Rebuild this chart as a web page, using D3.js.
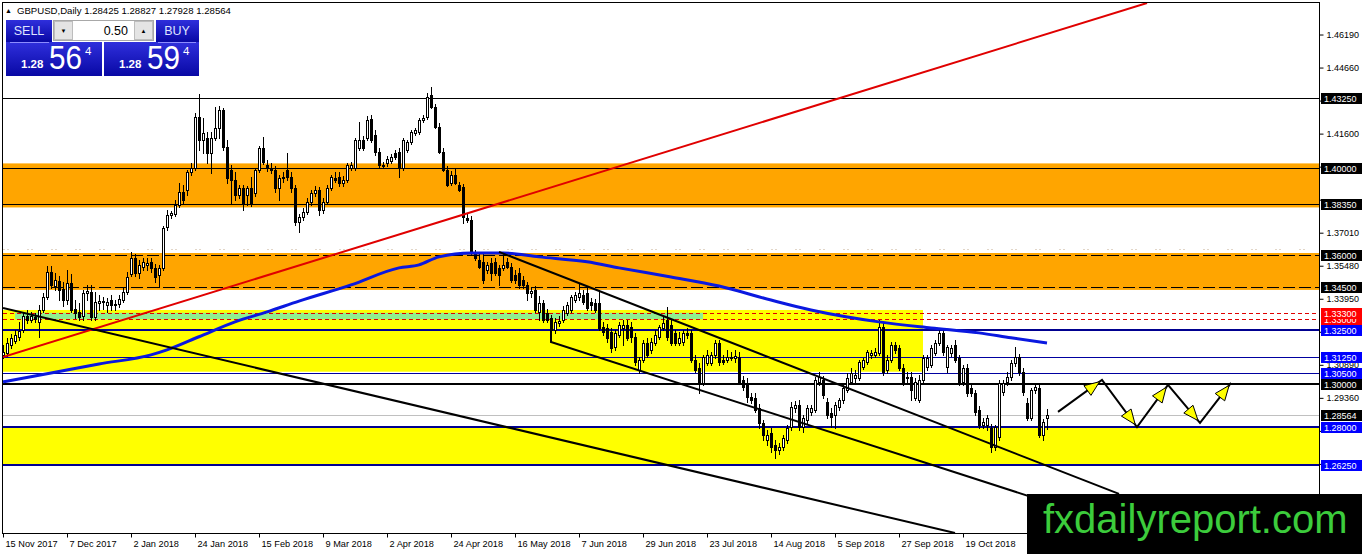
<!DOCTYPE html>
<html>
<head>
<meta charset="utf-8">
<script src="https://cdn.jsdelivr.net/npm/d3@7"></script>
<style>
  html, body { margin: 0; padding: 0; background: #fff; }
  svg { display: block; font-family: "Liberation Sans", Arial, sans-serif; }
</style>
</head>
<body>
<svg id="chart" width="1362" height="554"></svg>
<script>
// ---- data ----
const symbol = 'GBPUSD,Daily'
const lastQuote = [1.28425, 1.28827, 1.27928, 1.28564]
const bid = 1.28564
const ask = 1.28594
const lotSize = '0.50'

const dateLabels = ['15 Nov 2017', '7 Dec 2017', '2 Jan 2018', '24 Jan 2018', '15 Feb 2018', '9 Mar 2018',
  '2 Apr 2018', '24 Apr 2018', '16 May 2018', '7 Jun 2018', '29 Jun 2018', '23 Jul 2018',
  '14 Aug 2018', '5 Sep 2018', '27 Sep 2018', '19 Oct 2018']
const dateBars = [0, 16, 32, 48, 64, 80, 96, 112, 128, 144, 160, 176, 192, 208, 224, 240]

const priceTicks = [1.46190, 1.44660, 1.43130, 1.41600, 1.40070, 1.38540, 1.37010, 1.35480,
  1.33950, 1.32420, 1.30890, 1.29360, 1.27830, 1.26300, 1.24770, 1.23240]

// one row per daily bar: open, high, low, close
const candles = [
  [1.3135,1.3181,1.3121,1.3149],[1.3144,1.3214,1.3130,1.3190],[1.3181,1.3232,1.3167,1.3214],[1.3199,1.3251,1.3190,1.3228],
  [1.3219,1.3288,1.3204,1.3246],[1.3251,1.3334,1.3242,1.3315],[1.3315,1.3343,1.3283,1.3297],[1.3297,1.3334,1.3288,1.3315],
  [1.3311,1.3329,1.3288,1.3301],[1.3288,1.3366,1.3219,1.3343],[1.3343,1.3422,1.3334,1.3404],[1.3404,1.3547,1.3394,1.3519],
  [1.3519,1.3547,1.3445,1.3459],[1.3454,1.3514,1.3436,1.3482],[1.3477,1.3500,1.3389,1.3436],[1.3440,1.3473,1.3361,1.3389],
  [1.3389,1.3528,1.3370,1.3468],[1.3468,1.3510,1.3334,1.3343],[1.3347,1.3389,1.3306,1.3329],[1.3334,1.3375,1.3297,1.3311],
  [1.3315,1.3436,1.3297,1.3422],[1.3422,1.3459,1.3389,1.3431],[1.3427,1.3459,1.3297,1.3311],[1.3311,1.3427,1.3297,1.3380],
  [1.3375,1.3413,1.3343,1.3384],[1.3384,1.3404,1.3347,1.3380],[1.3366,1.3399,1.3334,1.3380],[1.3389,1.3413,1.3343,1.3366],
  [1.3366,1.3389,1.3343,1.3370],[1.3370,1.3413,1.3357,1.3394],[1.3389,1.3445,1.3380,1.3427],[1.3427,1.3519,1.3417,1.3496],
  [1.3510,1.3612,1.3500,1.3584],[1.3584,1.3603,1.3500,1.3514],[1.3514,1.3575,1.3491,1.3552],[1.3542,1.3584,1.3528,1.3566],
  [1.3552,1.3584,1.3528,1.3561],[1.3566,1.3584,1.3519,1.3538],[1.3538,1.3556,1.3473,1.3496],[1.3505,1.3552,1.3450,1.3538],
  [1.3538,1.3732,1.3528,1.3723],[1.3728,1.3806,1.3714,1.3783],[1.3783,1.3801,1.3769,1.3792],[1.3787,1.3853,1.3778,1.3830],
  [1.3830,1.3931,1.3821,1.3890],[1.3890,1.3922,1.3839,1.3853],[1.3899,1.3992,1.3876,1.3983],[1.3983,1.4024,1.3969,1.4001],
  [1.4001,1.4255,1.3992,1.4237],[1.4237,1.4343,1.4084,1.4131],[1.4131,1.4232,1.4070,1.4163],[1.4140,1.4168,1.4024,1.4070],
  [1.4070,1.4168,1.3978,1.4140],[1.4140,1.4284,1.4131,1.4186],[1.4186,1.4288,1.4140,1.4269],[1.4269,1.4279,1.4084,1.4099],
  [1.4099,1.4131,1.3931,1.3955],[1.3992,1.4015,1.3839,1.3945],[1.3945,1.3983,1.3853,1.3876],[1.3876,1.3922,1.3862,1.3908],
  [1.3908,1.3922,1.3806,1.3839],[1.3876,1.3917,1.3830,1.3908],[1.3908,1.3960,1.3825,1.3839],[1.3885,1.4001,1.3871,1.3992],
  [1.3992,1.4103,1.3983,1.4094],[1.4094,1.4145,1.4019,1.4029],[1.4015,1.4038,1.3987,1.4001],[1.4001,1.4024,1.3978,1.3992],
  [1.3992,1.4010,1.3890,1.3908],[1.3908,1.3969,1.3853,1.3955],[1.3955,1.3983,1.3936,1.3960],[1.3992,1.4070,1.3945,1.3960],
  [1.3960,1.3983,1.3890,1.3908],[1.3908,1.3922,1.3737,1.3751],[1.3751,1.3787,1.3705,1.3774],[1.3774,1.3816,1.3760,1.3797],
  [1.3797,1.3862,1.3787,1.3844],[1.3844,1.3899,1.3830,1.3885],[1.3885,1.3917,1.3871,1.3899],[1.3899,1.3913,1.3783,1.3806],
  [1.3806,1.3862,1.3792,1.3844],[1.3844,1.3922,1.3834,1.3908],[1.3908,1.3969,1.3899,1.3960],[1.3955,1.3983,1.3936,1.3945],
  [1.3960,1.3983,1.3917,1.3931],[1.3931,1.3964,1.3917,1.3945],[1.3945,1.4024,1.3936,1.4015],[1.4001,1.4029,1.3992,1.4015],
  [1.4001,1.4140,1.3992,1.4131],[1.4094,1.4214,1.4084,1.4131],[1.4131,1.4149,1.4084,1.4094],[1.4140,1.4241,1.4131,1.4223],
  [1.4227,1.4246,1.4122,1.4131],[1.4154,1.4177,1.4061,1.4075],[1.4075,1.4094,1.4001,1.4015],[1.4015,1.4029,1.4001,1.4010],
  [1.4024,1.4056,1.4010,1.4042],[1.4033,1.4065,1.4024,1.4052],[1.4070,1.4084,1.4042,1.4052],[1.4075,1.4094,1.3960,1.4006],
  [1.4001,1.4140,1.3992,1.4131],[1.4084,1.4131,1.4075,1.4122],[1.4122,1.4177,1.4112,1.4168],[1.4163,1.4186,1.4154,1.4177],
  [1.4168,1.4232,1.4158,1.4223],[1.4223,1.4246,1.4214,1.4232],[1.4237,1.4348,1.4227,1.4330],[1.4339,1.4376,1.4279,1.4284],
  [1.4284,1.4297,1.4186,1.4191],[1.4191,1.4209,1.4070,1.4075],[1.4075,1.4094,1.3987,1.3992],[1.3992,1.4010,1.3917,1.3922],
  [1.3931,1.3987,1.3922,1.3969],[1.3969,1.4001,1.3926,1.3931],[1.3922,1.3936,1.3894,1.3899],[1.3913,1.3926,1.3746,1.3774],
  [1.3769,1.3787,1.3751,1.3760],[1.3760,1.3778,1.3598,1.3607],[1.3607,1.3621,1.3575,1.3584],[1.3575,1.3607,1.3538,1.3543],
  [1.3566,1.3612,1.3468,1.3482],[1.3528,1.3566,1.3514,1.3552],[1.3561,1.3584,1.3482,1.3514],[1.3566,1.3584,1.3505,1.3514],
  [1.3538,1.3552,1.3459,1.3505],[1.3538,1.3607,1.3528,1.3552],[1.3566,1.3584,1.3538,1.3543],[1.3543,1.3561,1.3473,1.3482],
  [1.3505,1.3528,1.3468,1.3482],[1.3514,1.3538,1.3445,1.3459],[1.3482,1.3500,1.3445,1.3459],[1.3459,1.3473,1.3389,1.3422],
  [1.3422,1.3445,1.3404,1.3431],[1.3436,1.3454,1.3334,1.3343],[1.3334,1.3408,1.3297,1.3375],[1.3375,1.3389,1.3288,1.3297],
  [1.3329,1.3347,1.3288,1.3297],[1.3306,1.3320,1.3242,1.3251],[1.3251,1.3306,1.3237,1.3288],[1.3283,1.3315,1.3269,1.3292],
  [1.3297,1.3361,1.3288,1.3343],[1.3329,1.3380,1.3320,1.3366],[1.3343,1.3413,1.3334,1.3404],[1.3389,1.3427,1.3380,1.3413],
  [1.3404,1.3468,1.3389,1.3422],[1.3413,1.3436,1.3370,1.3380],[1.3422,1.3445,1.3343,1.3352],[1.3380,1.3399,1.3343,1.3366],
  [1.3375,1.3394,1.3334,1.3343],[1.3375,1.3436,1.3251,1.3260],[1.3265,1.3288,1.3228,1.3242],[1.3260,1.3278,1.3195,1.3214],
  [1.3242,1.3260,1.3149,1.3167],[1.3172,1.3251,1.3158,1.3237],[1.3228,1.3288,1.3219,1.3274],[1.3260,1.3297,1.3181,1.3274],
  [1.3274,1.3297,1.3204,1.3214],[1.3265,1.3288,1.3195,1.3219],[1.3219,1.3237,1.3089,1.3103],[1.3065,1.3126,1.3051,1.3112],
  [1.3112,1.3204,1.3103,1.3190],[1.3190,1.3214,1.3126,1.3135],[1.3158,1.3214,1.3144,1.3195],[1.3190,1.3251,1.3181,1.3228],
  [1.3219,1.3274,1.3209,1.3265],[1.3260,1.3311,1.3251,1.3283],[1.3297,1.3357,1.3204,1.3219],[1.3274,1.3297,1.3181,1.3190],
  [1.3237,1.3251,1.3181,1.3190],[1.3190,1.3242,1.3181,1.3214],[1.3195,1.3251,1.3181,1.3237],[1.3237,1.3260,1.3214,1.3228],
  [1.3237,1.3251,1.3103,1.3112],[1.3112,1.3135,1.3056,1.3065],[1.3075,1.3098,1.2959,1.3005],[1.3005,1.3135,1.2996,1.3126],
  [1.3098,1.3158,1.3089,1.3135],[1.3098,1.3149,1.3089,1.3135],[1.3135,1.3204,1.3121,1.3190],[1.3190,1.3204,1.3089,1.3103],
  [1.3112,1.3135,1.3093,1.3103],[1.3112,1.3158,1.3103,1.3126],[1.3121,1.3149,1.3112,1.3126],[1.3121,1.3158,1.3103,1.3130],
  [1.3126,1.3149,1.3000,1.3010],[1.3019,1.3037,1.2973,1.2987],[1.3005,1.3028,1.2917,1.2941],[1.2941,1.2959,1.2912,1.2926],
  [1.2936,1.2959,1.2871,1.2880],[1.2889,1.2907,1.2797,1.2820],[1.2820,1.2834,1.2741,1.2764],[1.2741,1.2787,1.2718,1.2764],
  [1.2773,1.2797,1.2686,1.2709],[1.2718,1.2741,1.2658,1.2695],[1.2695,1.2727,1.2676,1.2709],[1.2709,1.2764,1.2695,1.2750],
  [1.2741,1.2811,1.2727,1.2797],[1.2801,1.2917,1.2787,1.2894],[1.2889,1.2921,1.2871,1.2903],[1.2903,1.2926,1.2787,1.2801],
  [1.2801,1.2857,1.2778,1.2843],[1.2834,1.2903,1.2815,1.2889],[1.2871,1.2903,1.2857,1.2889],[1.2880,1.3033,1.2871,1.3019],
  [1.3010,1.3056,1.2996,1.3033],[1.3019,1.3037,1.2936,1.2950],[1.2917,1.2936,1.2843,1.2857],[1.2866,1.2889,1.2801,1.2848],
  [1.2857,1.2917,1.2797,1.2903],[1.2894,1.2936,1.2880,1.2926],[1.2926,1.2996,1.2912,1.2982],[1.2973,1.3051,1.2964,1.3028],
  [1.3010,1.3075,1.3000,1.3051],[1.3028,1.3065,1.3010,1.3042],[1.3028,1.3112,1.3019,1.3103],[1.3080,1.3121,1.3070,1.3112],
  [1.3103,1.3158,1.3093,1.3149],[1.3135,1.3158,1.3121,1.3144],[1.3135,1.3167,1.3126,1.3149],[1.3144,1.3297,1.3135,1.3265],
  [1.3265,1.3288,1.3042,1.3056],[1.3065,1.3135,1.3051,1.3112],[1.3112,1.3195,1.3103,1.3181],[1.3181,1.3195,1.3144,1.3158],
  [1.3167,1.3181,1.3065,1.3075],[1.3075,1.3093,1.2996,1.3010],[1.3033,1.3056,1.3010,1.3028],[1.3033,1.3056,1.2926,1.2973],
  [1.2936,1.3028,1.2926,1.3010],[1.2926,1.3042,1.2917,1.3019],[1.3019,1.3135,1.3010,1.3121],[1.3080,1.3135,1.3065,1.3121],
  [1.3089,1.3181,1.3080,1.3167],[1.3144,1.3204,1.3135,1.3190],[1.3190,1.3260,1.3181,1.3237],[1.3237,1.3251,1.3135,1.3149],
  [1.3080,1.3181,1.3056,1.3172],[1.3144,1.3181,1.3130,1.3167],[1.3181,1.3204,1.3103,1.3112],[1.3121,1.3135,1.2996,1.3010],
  [1.3010,1.3089,1.2996,1.3075],[1.3075,1.3093,1.2945,1.2959],[1.2982,1.2996,1.2945,1.2959],[1.2959,1.2973,1.2857,1.2871],
  [1.2880,1.2898,1.2797,1.2811],[1.2811,1.2843,1.2797,1.2825],[1.2811,1.2857,1.2787,1.2843],[1.2797,1.2815,1.2686,1.2709],
  [1.2709,1.2811,1.2695,1.2801],[1.2755,1.3019,1.2741,1.3005],[1.2964,1.3019,1.2950,1.3005],[1.3010,1.3056,1.2996,1.3033],
  [1.3033,1.3112,1.3019,1.3098],[1.3098,1.3172,1.3084,1.3126],[1.3126,1.3140,1.3042,1.3056],[1.3056,1.3075,1.2950,1.2964],
  [1.2912,1.2936,1.2834,1.2843],[1.2843,1.2982,1.2834,1.2973],[1.2973,1.2996,1.2959,1.2987],[1.2982,1.3000,1.2755,1.2764],
  [1.2764,1.2838,1.2741,1.2825],[1.28425,1.28827,1.27928,1.28564]
]

// moving average, read at these bars
const maBars = [0, 12, 24, 37, 41, 49, 58, 66, 74, 87, 99, 104, 109, 117, 125, 134, 146, 154, 167, 179, 192, 202, 219, 232, 244, 252, 261]
const maValues = [1.3010, 1.3051, 1.3093, 1.3135, 1.3158, 1.3219, 1.3288, 1.3334, 1.3384, 1.3459, 1.3538, 1.3552, 1.3589,
  1.3607, 1.3607, 1.3589, 1.3566, 1.3538, 1.3496, 1.3454, 1.3389, 1.3343, 1.3288, 1.3260, 1.3237, 1.3214, 1.3190]

// price levels and zones
const solidLevels = [1.43250, 1.40000, 1.38350]
const dashedLevels = [1.36000, 1.34500]
const redLevels = [1.33300, 1.33000]
const navyThick = [1.32500, 1.28000, 1.26250]
const navyThin = [1.31250, 1.30500]
const keyLevel = 1.30000
const faintLevel = 1.3625
const orangeZones = [[1.4022, 1.3818], [1.3607, 1.3436]]
const yellowZones = [[0, 230, 1.3343, 1.3057], [0, 329, 1.2800, 1.2625]] // from bar, to bar, top, bottom
const greenZones = [[3, 175, 1.3330, 1.3300]]

// trend lines: [bar, price]
const redTrend = [[0, 1.3125], [286, 1.4765]]
const longTrend = [[0, 1.3352], [238, 1.2310]]
const channelTop = [[124, 1.3612], [279, 1.2491]]
const channelBottom = [[137, 1.3297], [137, 1.3195], [285, 1.2310]]
const projection = [[263.75, 1.2871], [274.75, 1.3019], [283.5, 1.2801], [291.25, 1.2996], [299.25, 1.2820], [307, 1.3005]]

// ---- drawing ----
const W = 1362
const H = 554
const plotL = 3
const plotR = 1319
const plotT = 3
const plotB = 533
const markTop = 494
const svg = d3.select('#chart')

const x = d3.scaleLinear().domain([0, 329]).range([plotL, plotR])
const y = d3.scaleLinear().domain([1.2310, 1.4765]).range([plotB, plotT])
const half = v => Math.round(v) + 0.5
const fmt = d3.format('.5f')

const defs = svg.append('defs')
defs.append('clipPath').attr('id', 'plotClip')
  .append('rect').attr('x', plotL).attr('y', plotT).attr('width', plotR - plotL).attr('height', plotB - plotT)
const grad = defs.append('linearGradient').attr('id', 'blueBtn')
  .attr('x1', 0).attr('y1', 0).attr('x2', 0).attr('y2', 1)
grad.append('stop').attr('offset', '0%').attr('stop-color', '#2f2fdc')
grad.append('stop').attr('offset', '100%').attr('stop-color', '#0808a4')

svg.append('rect').attr('width', W).attr('height', H).attr('fill', '#fff')

const plot = svg.append('g').attr('clip-path', 'url(#plotClip)')

// zones
plot.selectAll('rect.orange').data(orangeZones).join('rect')
  .attr('x', plotL).attr('width', plotR - plotL)
  .attr('y', d => y(d[0])).attr('height', d => y(d[1]) - y(d[0]))
  .attr('fill', '#ffa500')
plot.selectAll('rect.yellow').data(yellowZones).join('rect')
  .attr('x', d => x(d[0])).attr('width', d => x(d[1]) - x(d[0]))
  .attr('y', d => y(d[2])).attr('height', d => y(d[3]) - y(d[2]))
  .attr('fill', '#ffff00')
plot.selectAll('rect.green').data(greenZones).join('rect')
  .attr('x', d => x(d[0])).attr('width', d => x(d[1]) - x(d[0]))
  .attr('y', d => y(d[2])).attr('height', d => y(d[3]) - y(d[2]))
  .attr('fill', '#90ee90')

function hline (p, color, w, dash) {
  const yy = w % 2 ? half(y(p)) : Math.round(y(p))
  plot.append('line')
    .attr('x1', plotL).attr('x2', plotR).attr('y1', yy).attr('y2', yy)
    .attr('stroke', color).attr('stroke-width', w)
    .attr('stroke-dasharray', dash || null)
}

hline(faintLevel, '#e2d6c8', 1, '2,2,2,18')
solidLevels.forEach(p => hline(p, '#000', 1))
dashedLevels.forEach(p => hline(p, '#000', 1, '12,4'))
redLevels.forEach(p => hline(p, '#e00000', 1, '4,3'))
navyThin.forEach(p => hline(p, '#0000a0', 1))
navyThick.forEach(p => hline(p, '#000090', 2))
hline(keyLevel, '#000', 2)
hline(bid, '#c0c0c0', 1)

// candles
const cg = plot.append('g')
cg.selectAll('line').data(candles).join('line')
  .attr('x1', (d, i) => Math.round(x(i)) + 0.5)
  .attr('x2', (d, i) => Math.round(x(i)) + 0.5)
  .attr('y1', d => Math.round(y(d[1])))
  .attr('y2', d => Math.round(y(d[2])) + 1)
  .attr('stroke', '#000')
cg.selectAll('rect').data(candles).join('rect')
  .attr('x', (d, i) => Math.round(x(i)) - 0.5)
  .attr('y', d => Math.round(y(Math.max(d[0], d[3]))) + 0.5)
  .attr('width', 2)
  .attr('height', d => Math.max(0, Math.round(y(Math.min(d[0], d[3]))) - Math.round(y(Math.max(d[0], d[3])))))
  .attr('fill', d => d[3] >= d[0] ? '#fff' : '#000')
  .attr('stroke', '#000')

// moving average
const maPts = maBars.map((b, k) => [b, maValues[k]])
const smooth = d3.line().x(d => x(d[0])).y(d => y(d[1])).curve(d3.curveMonotoneX)
plot.append('path').datum(maPts)
  .attr('d', smooth)
  .attr('fill', 'none').attr('stroke', '#0a18e0').attr('stroke-width', 3)

const straight = d3.line().x(d => x(d[0])).y(d => y(d[1]))
plot.append('path').datum(redTrend).attr('d', straight)
  .attr('fill', 'none').attr('stroke', '#e00000').attr('stroke-width', 2)
;[longTrend, channelTop, channelBottom].forEach(t => {
  plot.append('path').datum(t).attr('d', straight)
    .attr('fill', 'none').attr('stroke', '#000').attr('stroke-width', 2)
})

// projected zig-zag with yellow arrow heads
plot.append('path').datum(projection).attr('d', straight)
  .attr('fill', 'none').attr('stroke', '#000').attr('stroke-width', 2)
d3.pairs(projection).forEach(([a, b]) => {
  const ax = x(a[0]); const ay = y(a[1]); const bx = x(b[0]); const by = y(b[1])
  const len = Math.hypot(bx - ax, by - ay)
  const ux = (bx - ax) / len; const uy = (by - ay) / len
  const tx = bx - ux * 3; const ty = by - uy * 3
  const baseX = tx - ux * 15; const baseY = ty - uy * 15
  const pts = [[tx, ty], [baseX - uy * 6, baseY + ux * 6], [baseX + uy * 6, baseY - ux * 6]]
  plot.append('polygon').attr('points', pts.map(p => p.join(',')).join(' '))
    .attr('fill', '#ffff00').attr('stroke', '#000').attr('stroke-width', 1)
})

// frame
svg.append('rect').attr('x', plotL - 0.5).attr('y', plotT - 0.5)
  .attr('width', plotR - plotL + 1).attr('height', plotB - plotT + 1)
  .attr('fill', 'none').attr('stroke', '#000')
svg.append('line').attr('x1', plotR + 0.5).attr('x2', plotR + 0.5).attr('y1', plotT).attr('y2', H).attr('stroke', '#000')

// price tags on the axis
const tags = []
solidLevels.concat(dashedLevels, [keyLevel, bid]).forEach(p => tags.push([p, '#000']))
redLevels.forEach(p => tags.push([p, '#ff0000']))
navyThick.concat(navyThin).forEach(p => tags.push([p, '#0000ff']))
tags.sort((a, b) => a[0] - b[0])

// price axis: labels that sit fully under a tag or the watermark stay hidden, as on the terminal
const hiddenTick = t => y(t) > markTop - 4 || tags.some(([p]) => Math.abs(y(p) - y(t)) < 6)
const yAxis = svg.append('g').attr('transform', `translate(${plotR + 0.5},0)`)
  .call(d3.axisRight(y).tickValues(priceTicks).tickSize(4).tickPadding(3)
    .tickFormat(t => hiddenTick(t) ? '' : fmt(t)))
yAxis.select('.domain').remove()
yAxis.selectAll('text').attr('font-size', 9).attr('font-family', '"Liberation Sans", Arial, sans-serif').attr('fill', '#000')

// date axis
const xAxis = svg.append('g').attr('transform', `translate(0,${plotB + 0.5})`)
  .call(d3.axisBottom(x).tickValues(dateBars).tickSize(4).tickPadding(3).tickFormat((d, k) => dateLabels[k]))
xAxis.select('.domain').remove()
xAxis.selectAll('text').attr('text-anchor', 'start').attr('dx', 2)
  .attr('font-size', 9.2).attr('font-family', '"Liberation Sans", Arial, sans-serif').attr('fill', '#000')

const tg = svg.append('g')
tags.forEach(([p, col]) => {
  const yy = Math.round(y(p))
  tg.append('rect').attr('x', plotR + 2).attr('y', yy - 5).attr('width', W - plotR - 2).attr('height', 11).attr('fill', col)
  tg.append('text').attr('x', plotR + 5).attr('y', yy + 4).attr('font-size', 9).attr('fill', '#fff').text(fmt(p))
})

// watermark
svg.append('rect').attr('x', 1027).attr('y', markTop).attr('width', W - 1027).attr('height', H - markTop).attr('fill', '#000')
svg.append('text').attr('x', 1043).attr('y', 533).attr('font-size', 40).attr('fill', '#3ccc3c').text('fxdailyreport.com')

// title
svg.append('text').attr('x', 5).attr('y', 13).attr('font-size', 7).attr('fill', '#000').text('\u25B2')
svg.append('text').attr('x', 17).attr('y', 14).attr('font-size', 9.6).attr('fill', '#000')
  .text(symbol + '  ' + lastQuote.map(fmt).join(' '))

// one-click trading panel
const panel = svg.append('g')
const bidStr = fmt(bid)
const askStr = fmt(ask)
function pricePanel (px0, w, s) {
  panel.append('rect').attr('x', px0).attr('y', 42).attr('width', w).attr('height', 34).attr('fill', 'url(#blueBtn)')
  panel.append('text').attr('x', px0 + 15).attr('y', 68).attr('font-size', 11.5).attr('font-weight', 'bold').attr('fill', '#fff').text(s.slice(0, 4))
  panel.append('text').attr('x', px0 + 43).attr('y', 69).attr('font-size', 33).attr('fill', '#fff')
    .attr('textLength', 33).attr('lengthAdjust', 'spacingAndGlyphs').text(s.slice(4, 6))
  panel.append('text').attr('x', px0 + 79).attr('y', 55).attr('font-size', 11.5).attr('fill', '#fff').text(s.slice(6))
}
pricePanel(6, 96, bidStr)
pricePanel(104, 95, askStr)
panel.append('rect').attr('x', 6).attr('y', 20).attr('width', 46).attr('height', 22).attr('fill', 'url(#blueBtn)')
panel.append('rect').attr('x', 156).attr('y', 20).attr('width', 43).attr('height', 22).attr('fill', 'url(#blueBtn)')
panel.append('line').attr('x1', 10).attr('x2', 49).attr('y1', 42.5).attr('y2', 42.5).attr('stroke', '#8c8cff')
panel.append('line').attr('x1', 158).attr('x2', 196).attr('y1', 42.5).attr('y2', 42.5).attr('stroke', '#8c8cff')
panel.append('text').attr('x', 29).attr('y', 35).attr('text-anchor', 'middle').attr('font-size', 12.5).attr('fill', '#dfe4ff').text('SELL')
panel.append('text').attr('x', 177).attr('y', 35).attr('text-anchor', 'middle').attr('font-size', 12.5).attr('fill', '#dfe4ff').text('BUY')
panel.append('rect').attr('x', 53.5).attr('y', 20.5).attr('width', 100).attr('height', 20).attr('fill', '#fff').attr('stroke', '#a8a8a8')
panel.append('rect').attr('x', 54.5).attr('y', 21.5).attr('width', 18).attr('height', 18).attr('fill', '#e4e4e4').attr('stroke', '#bdbdbd')
panel.append('rect').attr('x', 134.5).attr('y', 21.5).attr('width', 18).attr('height', 18).attr('fill', '#e4e4e4').attr('stroke', '#bdbdbd')
panel.append('text').attr('x', 63.5).attr('y', 33).attr('text-anchor', 'middle').attr('font-size', 6).attr('fill', '#000').text('\u25BC')
panel.append('text').attr('x', 143.5).attr('y', 33).attr('text-anchor', 'middle').attr('font-size', 6).attr('fill', '#000').text('\u25B2')
panel.append('text').attr('x', 128).attr('y', 35).attr('text-anchor', 'end').attr('font-size', 12.5).attr('fill', '#000').text(lotSize)
</script>
</body>
</html>
